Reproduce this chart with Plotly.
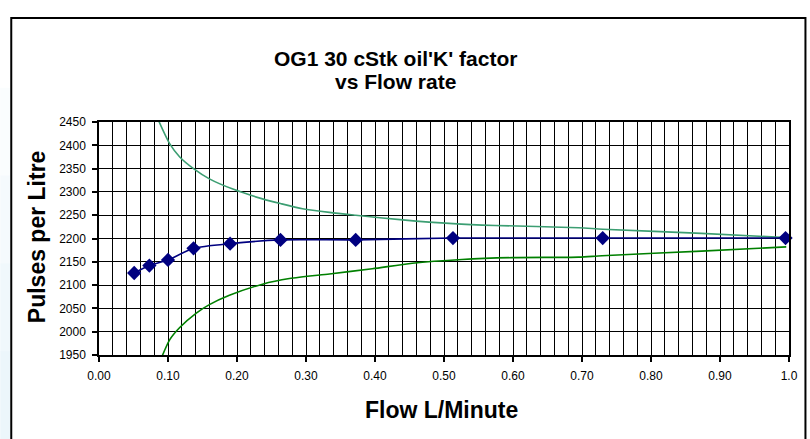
import plotly.graph_objects as go

# ---- data ----
flow = [0.051, 0.073, 0.100, 0.137, 0.190, 0.263, 0.372, 0.513, 0.730, 0.995]
k_factor = [2126, 2142, 2154, 2179, 2189, 2197, 2197, 2201, 2201, 2201]

upper_x = [0.083, 0.1026, 0.117, 0.137, 0.160, 0.194, 0.237, 0.263, 0.295,
           0.334, 0.372, 0.440, 0.513, 0.574, 0.695, 0.730, 0.873, 0.995]
upper_y = [2464, 2403, 2375, 2350, 2328, 2306, 2285, 2275, 2264,
           2256, 2250, 2240, 2232, 2228, 2223, 2220, 2211, 2202]

lower_x = [0.0885, 0.1026, 0.117, 0.141, 0.160, 0.189, 0.237, 0.276, 0.334,
           0.396, 0.454, 0.526, 0.599, 0.695, 0.729, 0.873, 0.996]
lower_y = [1937, 1983, 2009, 2040, 2058, 2078, 2102, 2114, 2124,
           2135, 2147, 2155, 2159, 2160, 2163, 2173, 2182]

x_tickvals = [0.0, 0.1, 0.2, 0.3, 0.4, 0.5, 0.6, 0.7, 0.8, 0.9, 1.0]
x_ticktext = ["0.00", "0.10", "0.20", "0.30", "0.40", "0.50", "0.60",
              "0.70", "0.80", "0.90", "1.0"]
y_tickvals = [1950, 2000, 2050, 2100, 2150, 2200, 2250, 2300, 2350, 2400, 2450]

title_lines = ["OG1 30 cStk oil'K' factor", "vs Flow rate"]
x_title = "Flow L/Minute"
y_title = "Pulses per Litre"

# ---- layout geometry (page pixels; body margin is removed below) ----
W, H = 810, 439
PL, PR, PT, PB = 99, 791, 122, 355
pw, ph = PR - PL, PB - PT


def px(x):
    return (x - PL) / pw


def py(y):
    return (PB - y) / ph


FONT = "Liberation Sans, Arial, sans-serif"

fig = go.Figure()

fig.add_trace(go.Scatter(
    x=upper_x, y=upper_y, mode="lines",
    line=dict(color="#3C9E72", width=1.6, shape="spline", smoothing=0.7),
    showlegend=False, hoverinfo="skip"))
fig.add_trace(go.Scatter(
    x=lower_x, y=lower_y, mode="lines",
    line=dict(color="#008000", width=1.6, shape="spline", smoothing=0.7),
    showlegend=False, hoverinfo="skip"))
fig.add_trace(go.Scatter(
    x=flow, y=k_factor, mode="lines+markers",
    line=dict(color="#000080", width=1.6, shape="spline", smoothing=0.6),
    marker=dict(symbol="diamond", size=11, color="#000080"),
    showlegend=False, cliponaxis=False))

grid = dict(showgrid=True, gridcolor="black", gridwidth=1.3)

fig.update_xaxes(
    range=[0, 1.0], tickvals=x_tickvals, ticktext=x_ticktext,
    ticks="outside", ticklen=5, tickwidth=1.5, tickcolor="black",
    showline=True, linecolor="black", linewidth=1.5, mirror=True,
    zeroline=False, tickfont=dict(family=FONT, size=12, color="black"),
    minor=dict(dtick=0.02, showgrid=True, gridcolor="black", gridwidth=1.3),
    ticklabelstandoff=4,
    **grid)
fig.update_yaxes(
    range=[1950, 2450], tickvals=y_tickvals,
    ticks="outside", ticklen=5, tickwidth=1.5, tickcolor="black",
    showline=True, linecolor="black", linewidth=1.5, mirror=True,
    zeroline=False, tickfont=dict(family=FONT, size=12, color="black"),
    ticklabelstandoff=4,
    **grid)

shapes = []
# pale blue strip left of the frame, fading from white at the top
strip_cols = ["#FFFFFF", "#FAFDFE", "#F5FAFD", "#F0F8FC", "#ECF6FB"]
seg = H / len(strip_cols)
for i, c in enumerate(strip_cols):
    shapes.append(dict(type="rect", xref="paper", yref="paper",
                       x0=px(0), x1=px(10), y0=py(i * seg), y1=py((i + 1) * seg + 1),
                       fillcolor=c, line=dict(width=0), layer="below"))
# outer chart frame (left, top, right edges; bottom lies below the page)
shapes.append(dict(type="rect", xref="paper", yref="paper",
                   x0=px(11), x1=px(807.5), y0=py(18), y1=py(H + 10),
                   line=dict(color="black", width=2), fillcolor="rgba(0,0,0,0)"))

annotations = [
    dict(text=title_lines[0], x=px(396), y=py(58), xref="paper", yref="paper",
         showarrow=False, xanchor="center", yanchor="middle",
         font=dict(family=FONT, size=21, color="black", weight="bold")),
    dict(text=title_lines[1], x=px(396), y=py(81), xref="paper", yref="paper",
         showarrow=False, xanchor="center", yanchor="middle",
         font=dict(family=FONT, size=21, color="black", weight="bold")),
    dict(text=x_title, x=px(442), y=py(410), xref="paper", yref="paper",
         showarrow=False, xanchor="center", yanchor="middle",
         font=dict(family=FONT, size=23, color="black", weight="bold")),
    dict(text=y_title, x=px(37), y=py(237), xref="paper", yref="paper",
         showarrow=False, xanchor="center", yanchor="middle", textangle=-90,
         font=dict(family=FONT, size=23, color="black", weight="bold")),
]

fig.update_layout(
    width=W, height=H,
    margin=dict(l=PL, r=W - PR, t=PT, b=H - PB, pad=0),
    paper_bgcolor="white", plot_bgcolor="white",
    shapes=shapes, annotations=annotations,
    font=dict(family=FONT, color="black"),
)

fig.write_html(
    "out.html",
    config={"displayModeBar": False},
    post_script="document.body.style.margin='0';"
                "document.body.style.padding='0';"
                "document.documentElement.style.overflow='hidden';"
                "document.body.style.overflow='hidden';",
)
